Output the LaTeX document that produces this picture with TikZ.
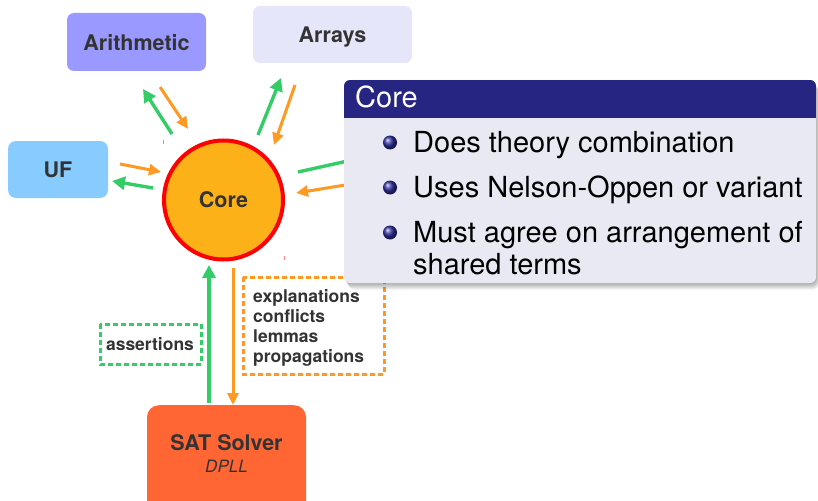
\documentclass[tikz,border=0pt]{standalone}
\usepackage{fontspec}
\setmainfont{TeX Gyre Heros}
\usetikzlibrary{arrows.meta}
\definecolor{arithfill}{HTML}{9999FF}
\definecolor{arraysfill}{HTML}{E6E6FA}
\definecolor{uffill}{HTML}{88CCFF}
\definecolor{corefill}{HTML}{FDB119}
\definecolor{satfill}{HTML}{FF6633}
\definecolor{gline}{HTML}{33CC66}
\definecolor{oline}{HTML}{FF9922}
\definecolor{txt}{HTML}{333333}
\definecolor{blockhead}{HTML}{262682}
\definecolor{blockbody}{HTML}{E9E9F3}
\definecolor{ballblue}{HTML}{3030A0}
\definecolor{tick}{HTML}{FF8080}
\begin{document}
\begin{tikzpicture}[x=1pt,y=-1pt,
  theory/.style={rounded corners=7pt, text=txt, inner sep=0pt, text depth=0pt,
    font=\fontsize{21.5}{25}\selectfont\bfseries},
  garrow/.style={draw=gline, line width=3.4pt, -{Triangle[length=13pt,width=13pt]}},
  oarrow/.style={draw=oline, line width=3pt, -{Triangle[length=12pt,width=11pt]}},
  gplain/.style={draw=gline, line width=3.4pt},
  smalllabel/.style={text=txt, inner sep=0pt, font=\fontsize{17.5}{20}\selectfont\bfseries},
  dashbox/.style={line width=3pt, dash pattern=on 5pt off 3pt},
  itemtext/.style={anchor=base west, inner sep=0pt, text=black,
    font=\fontsize{29}{32}\selectfont},
]
\useasboundingbox (0,0) rectangle (818,500);

% theory solvers
\node[theory, fill=arithfill, minimum width=139pt, minimum height=58pt] (arith) at (136.5,42) {Arithmetic};
\node[theory, fill=arraysfill, minimum width=159pt, minimum height=57pt] (arrays) at (332.5,34.5) {Arrays};
\node[theory, fill=uffill, minimum width=100pt, minimum height=57pt, rounded corners=8pt] (uf) at (58,169.5) {UF};

% core
\node[circle, draw=red, line width=4pt, fill=corefill, minimum size=119pt, inner sep=0pt,
  text=txt, font=\fontsize{21.5}{25}\selectfont\bfseries] (core) at (223.5,200) {Core};
\draw[tick, line width=1pt] (163,140) -- (163,144);
\draw[tick, line width=1pt] (284,256) -- (284,260);

% SAT solver
\node[fill=satfill, rounded corners=12pt, minimum width=159pt, minimum height=120pt,
  anchor=north, inner sep=0pt] (sat) at (226.5,405) {};
\node[text=txt, inner sep=0pt, anchor=base, font=\fontsize{21.5}{25}\selectfont\bfseries] (satname) at (226.5,450) {SAT Solver};
\node[text=txt, inner sep=0pt, anchor=base, font=\fontsize{17}{20}\selectfont\itshape] (satsub) at (226.5,472) {DPLL};

% arrow end points
\coordinate (ar1s) at (172,134); \coordinate (ar1e) at (143,89);
\coordinate (ar2s) at (160,87);  \coordinate (ar2e) at (188,129);
\coordinate (ay1s) at (258,135); \coordinate (ay1e) at (281,78);
\coordinate (ay2s) at (295,85);  \coordinate (ay2e) at (274,145);
\coordinate (uf1s) at (120,164); \coordinate (uf1e) at (161,172);
\coordinate (uf2s) at (153,188); \coordinate (uf2e) at (112,181);
\coordinate (rt1s) at (298,172); \coordinate (rt1e) at (370,156);
\coordinate (rt2s) at (370,181); \coordinate (rt2e) at (296,193);
\coordinate (sat1s) at (209,403); \coordinate (sat1e) at (209,265);
\coordinate (sat2s) at (233,268); \coordinate (sat2e) at (233,405);

\draw[garrow] (ar1s) -- (ar1e);
\draw[oarrow] (ar2s) -- (ar2e);
\draw[garrow] (ay1s) -- (ay1e);
\draw[oarrow] (ay2s) -- (ay2e);
\draw[oarrow] (uf1s) -- (uf1e);
\draw[garrow] (uf2s) -- (uf2e);
\draw[gplain] (rt1s) -- (rt1e);
\draw[oarrow] (rt2s) -- (rt2e);
\draw[garrow] (sat1s) -- (sat1e);
\draw[oarrow] (sat2s) -- (sat2e);

% labels on the SAT link
\draw[dashbox, draw=gline] (100,324) rectangle (201,364);
\node[smalllabel] (assert) at (150,344) {assertions};
\draw[dashbox, draw=oline] (243,277) rectangle (384,374);
\node[smalllabel, anchor=base west] (expl) at (253,302) {explanations};
\node[smalllabel, anchor=base west] (confl) at (253,322) {conflicts};
\node[smalllabel, anchor=base west] (lemm) at (253,342) {lemmas};
\node[smalllabel, anchor=base west] (prop) at (253,362) {propagations};

% block with shadow
\foreach \s in {1,...,6}
  \fill[black, opacity=0.06, rounded corners=7pt] (344+\s*0.6,80+\s*1.1) rectangle (816+\s*0.6,283+\s*1.1);
\fill[blockbody, rounded corners=6pt] (344,80) rectangle (816,283);
\begin{scope}
  \clip[rounded corners=6pt] (344,80) rectangle (816,283);
  \fill[blockhead] (344,80) rectangle (816,118);
\end{scope}
\node[anchor=base west, inner sep=0pt, text=white, font=\fontsize{29}{32}\selectfont] (blocktitle) at (355,107) {Core};
\foreach \y in {142.5,187.5,232.5}
  \shade[ball color=ballblue] (390,\y) circle (7pt);
\node[itemtext] (item1) at (413,152) {Does theory combination};
\node[itemtext] (item2) at (413,197) {Uses Nelson-Oppen or variant};
\node[itemtext] (item3) at (413,242) {Must agree on arrangement of};
\node[itemtext] (item3b) at (413,274) {shared terms};
\end{tikzpicture}
\end{document}
